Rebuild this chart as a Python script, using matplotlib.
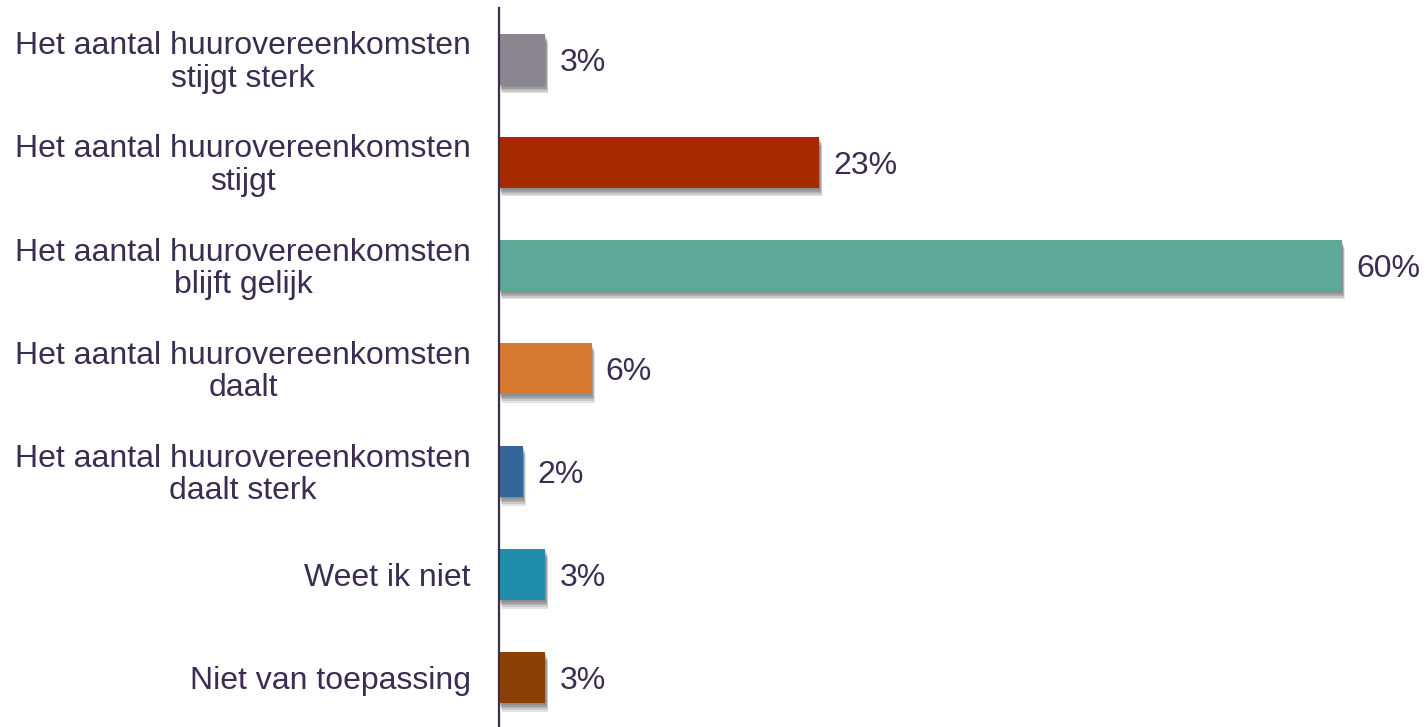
import matplotlib.pyplot as plt
import matplotlib.patheffects as pe
import numpy as np

plt.rcParams['font.family'] = ['Liberation Sans', 'DejaVu Sans']

# Answers and shares (%), top to bottom
categories = [
    'Het aantal huurovereenkomsten\nstijgt sterk',
    'Het aantal huurovereenkomsten\nstijgt',
    'Het aantal huurovereenkomsten\nblijft gelijk',
    'Het aantal huurovereenkomsten\ndaalt',
    'Het aantal huurovereenkomsten\ndaalt sterk',
    'Weet ik niet',
    'Niet van toepassing',
]
values = [3.3, 22.8, 60.0, 6.6, 1.7, 3.3, 3.3]
value_labels = ['3%', '23%', '60%', '6%', '2%', '3%', '3%']
colors = ['#8a8690', '#a52a00', '#5fa797', '#d67b31', '#336699', '#1f8dab', '#8b4106']

text_color = '#3b2d52'

fig = plt.figure(figsize=(14.27, 7.27), dpi=100)
ax = fig.add_axes([499 / 1427, -0.003, 1 - 499 / 1427, 0.992])

y = np.arange(len(categories))

# soft drop shadow under each bar
shadow = [pe.SimplePatchShadow(offset=(o * 0.5, -o * 1.4), shadow_rgbFace='k', alpha=0.11)
          for o in (1.0, 1.8, 2.6, 3.4, 4.2)]
bars = ax.barh(y, values, height=0.5, color=colors, zorder=2,
               path_effects=shadow + [pe.Normal()])

for yi, v, lab in zip(y, values, value_labels):
    ax.text(v + 1.0, yi + 0.03, lab, va='center', ha='left', fontsize=23, color=text_color)

for yi, cat in zip(y, categories):
    ax.text(-2.0, yi + 0.03, cat, va='center', ha='right', multialignment='center',
            fontsize=23, color=text_color, linespacing=1.1)

ax.set_xlim(0, (1427 - 499) / 14.05)
ax.set_ylim(6.5, -0.5)
ax.set_xticks([])
ax.set_yticks([])
for s in ['top', 'right', 'bottom']:
    ax.spines[s].set_visible(False)
ax.spines['left'].set_color('#3b2d52')
ax.spines['left'].set_linewidth(1.6)
ax.spines['left'].set_zorder(3)

fig.savefig('out.png', dpi=100)
